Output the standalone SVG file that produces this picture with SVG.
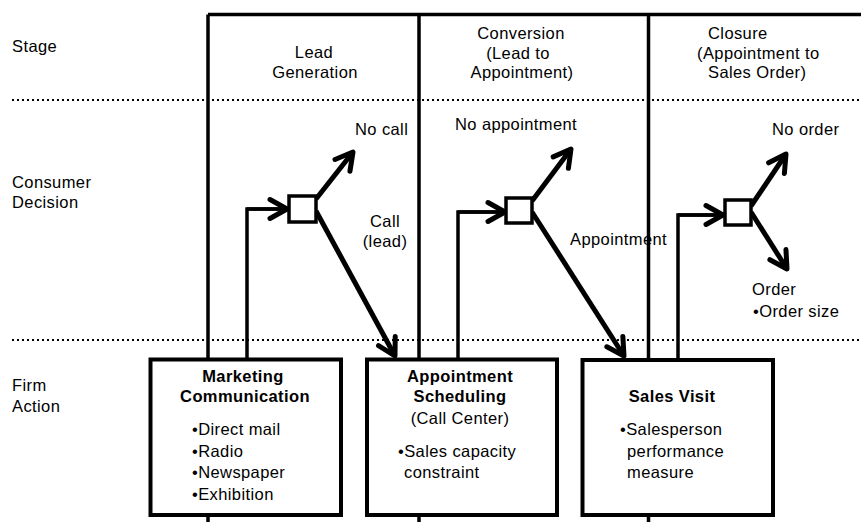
<svg xmlns="http://www.w3.org/2000/svg" width="861" height="522" viewBox="0 0 861 522">
<style>
text{font-family:"Liberation Sans",Arial,Helvetica,sans-serif;font-size:16.5px;fill:#000;letter-spacing:0.4px}
.b{font-weight:bold}
.m{text-anchor:middle}
.grid{stroke:#000;stroke-width:3.5;fill:none}
.dot{stroke:#000;stroke-width:2;stroke-dasharray:2 3;fill:none}
.box{fill:#fff;stroke:#000;stroke-width:4}
.dec{fill:#fff;stroke:#000;stroke-width:3.5}
.con{stroke:#000;stroke-width:3.5;fill:none}
.arr{stroke:#000;stroke-width:5;fill:none;marker-end:url(#ch)}
.arr2{stroke:#000;stroke-width:3.5;fill:none;marker-end:url(#ch)}
</style>
<defs>
<marker id="ch" markerUnits="userSpaceOnUse" markerWidth="40" markerHeight="40" refX="30" refY="20" orient="auto" overflow="visible">
<path d="M13,10.5 L30,20 L13,29.5" fill="none" stroke="#000" stroke-width="5" stroke-linecap="round" stroke-linejoin="round"/>
</marker>
</defs>
<g id="grid">
<path class="grid" d="M208,14.5 H861 M208,14.5 V522 M419,14.5 V522 M648.5,14.5 V522"/>
<path class="dot" d="M12,100 H861 M12,340 H861"/>
</g>
<g id="row-labels">
<text x="12" y="52">Stage</text>
<text x="12" y="188">Consumer</text>
<text x="12" y="208">Decision</text>
<text x="12" y="391">Firm</text>
<text x="12" y="412">Action</text>
</g>
<g id="stage-lead">
<text class="m" x="314" y="58">Lead</text>
<text class="m" x="315" y="78">Generation</text>
</g>
<g id="stage-conversion">
<text class="m" x="521" y="39">Conversion</text>
<text class="m" x="518" y="59">(Lead to</text>
<text class="m" x="522" y="78">Appointment)</text>
</g>
<g id="stage-closure">
<text x="708" y="39">Closure</text>
<text x="697" y="59">(Appointment to</text>
<text x="708" y="78">Sales Order)</text>
</g>
<g id="connectors">
<path class="con" d="M247,359 V209 H283"/>
<path class="con" d="M458,359 V212 H502"/>
<path class="con" d="M678,359 V215 H720"/>
<path class="arr2" d="M247,209 H287"/>
<path class="arr2" d="M458,212 H505"/>
<path class="arr2" d="M678,215 H723"/>
<path class="arr" d="M316,199 L353,152"/>
<path class="arr" d="M316,211 L395,356"/>
<path class="arr" d="M532,201 L571,149"/>
<path class="arr" d="M532,212 L624,356"/>
<path class="arr" d="M751,206 L786,154"/>
<path class="arr" d="M751,212 L787,269"/>
</g>
<g id="decision-1"><rect class="dec" x="289" y="196" width="27" height="26"/></g>
<g id="decision-2"><rect class="dec" x="506" y="198" width="26" height="25"/></g>
<g id="decision-3"><rect class="dec" x="725" y="200" width="26" height="25"/></g>
<g id="labels">
<text x="355" y="135">No call</text>
<text x="385" y="227" class="m">Call</text>
<text x="385" y="247" class="m">(lead)</text>
<text x="455" y="130">No appointment</text>
<text x="570" y="245">Appointment</text>
<text x="772" y="135">No order</text>
<text x="752" y="295">Order</text>
<text x="753" y="317">•Order size</text>
</g>
<g id="marketing">
<rect class="box" x="150.5" y="359.5" width="190.5" height="155.5"/>
<text class="b m" x="243" y="382">Marketing</text>
<text class="b m" x="245" y="402">Communication</text>
<text x="192" y="435">•Direct mail</text>
<text x="192" y="457">•Radio</text>
<text x="192" y="478">•Newspaper</text>
<text x="192" y="500">•Exhibition</text>
</g>
<g id="appointment">
<rect class="box" x="367" y="359.5" width="190" height="155.5"/>
<text class="b m" x="460" y="382">Appointment</text>
<text class="b m" x="460" y="402">Scheduling</text>
<text class="m" x="460" y="424">(Call Center)</text>
<text x="398" y="457">•Sales capacity</text>
<text x="404" y="478">constraint</text>
</g>
<g id="sales-visit">
<rect class="box" x="582.5" y="360" width="190.5" height="155"/>
<text class="b m" x="672" y="402">Sales Visit</text>
<text x="620" y="435">•Salesperson</text>
<text x="627" y="457">performance</text>
<text x="627" y="478">measure</text>
</g>
</svg>
